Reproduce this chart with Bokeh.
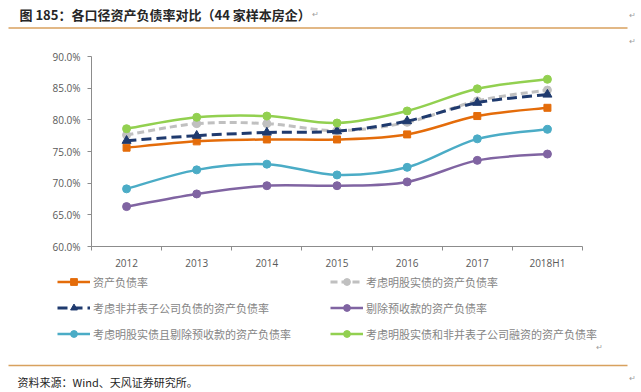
from bokeh.plotting import figure
from bokeh.layouts import column
from bokeh.models import (Range1d, FixedTicker, PrintfTickFormatter, Legend,
                          LegendItem, Label, BoxAnnotation)
from bokeh.embed import file_html
from bokeh.resources import INLINE

# ---------------- data ----------------
years = ["2012", "2013", "2014", "2015", "2016", "2017", "2018H1"]
zcfzl = [75.6, 76.6, 76.9, 76.9, 77.7, 80.6, 81.9]          # 资产负债率
mgsz = [77.6, 79.4, 79.4, 78.3, 79.6, 83.0, 84.7]           # 考虑明股实债的资产负债率
fbb = [76.7, 77.5, 78.0, 78.2, 79.8, 82.7, 84.0]            # 考虑非并表子公司负债的资产负债率
tcys = [66.3, 68.3, 69.6, 69.6, 70.2, 73.6, 74.6]           # 剔除预收款的资产负债率
mgsz_tcys = [69.1, 72.1, 73.0, 71.3, 72.5, 77.0, 78.5]      # 考虑明股实债且剔除预收款的资产负债率
mgsz_fbb = [78.6, 80.4, 80.6, 79.5, 81.4, 84.9, 86.4]       # 考虑明股实债和非并表子公司融资的资产负债率
y_ticks = [60, 65, 70, 75, 80, 85, 90]

names = ["资产负债率", "考虑明股实债的资产负债率", "考虑非并表子公司负债的资产负债率",
         "剔除预收款的资产负债率", "考虑明股实债且剔除预收款的资产负债率",
         "考虑明股实债和非并表子公司融资的资产负债率"]

title_text = "图 185：各口径资产负债率对比（44 家样本房企）"
source_text = "资料来源：Wind、天风证券研究所。"

# ---------------- styles ----------------
W = 641
TOP_H, MAIN_H, BOT_H = 48, 224, 120
AX = "#8c8c8c"
TK = "#595959"
FONT = "Open Sans"
CJK = "Noto Sans CJK SC"
RULE = "#D8A15E"
series_style = [
    ("#E46C0A", "square", 7, "solid", 2.5),
    ("#C0C0C0", "circle", 8, "7 4", 3),
    ("#1F3A6E", "triangle", 9, "10 5", 3),
    ("#8064A2", "circle", 8, "solid", 2.5),
    ("#4BACC6", "circle", 8, "solid", 2.5),
    ("#92D050", "circle", 8, "solid", 2.5),
]
series_vals = [zcfzl, mgsz, fbb, tcys, mgsz_tcys, mgsz_fbb]


def blank_fig(h):
    f = figure(width=W, height=h, output_backend="svg", toolbar_location=None,
               x_axis_type=None, y_axis_type=None,
               x_range=Range1d(0, 1), y_range=Range1d(0, 1),
               min_border=0, min_border_left=0, min_border_right=0,
               min_border_top=0, min_border_bottom=0, frame_align=False)
    f.outline_line_color = None
    f.xgrid.visible = False
    f.ygrid.visible = False
    return f


def mark(f, h, px, py):
    f.add_layout(Label(x=px, y=h - py, x_units="screen", y_units="screen",
                       text="↵", text_font="DejaVu Sans", text_font_size="8px",
                       text_color="#a0a0a0", text_baseline="middle",
                       text_align="center"))


def rule(f, h, py):
    f.add_layout(BoxAnnotation(left=8, right=627, top=h - py + 0.75,
                               bottom=h - py - 0.75, left_units="screen",
                               right_units="screen", top_units="screen",
                               bottom_units="screen", fill_color=RULE,
                               fill_alpha=1, line_color=None))

# ---------------- top: title ----------------
top = blank_fig(TOP_H)
top.add_layout(Label(x=19, y=TOP_H - 14, x_units="screen", y_units="screen",
                     text=title_text, text_font=CJK, text_font_size="13px",
                     text_font_style="bold", text_color="#262626",
                     text_baseline="middle"))
rule(top, TOP_H, 27.5)
for px, py in [(315, 14), (632, 15), (632, 41)]:
    mark(top, TOP_H, px, py)

# ---------------- main chart ----------------
xs = [i + 0.5 for i in range(len(years))]
p = figure(width=W, height=MAIN_H, output_backend="svg", toolbar_location=None,
           x_range=Range1d(0, len(years)), y_range=Range1d(60, 90),
           min_border_left=91, min_border_right=59, min_border_top=8,
           min_border_bottom=25, frame_align=False)
p.outline_line_color = None
p.xgrid.visible = False
p.ygrid.visible = False

p.xaxis.ticker = FixedTicker(ticks=xs, minor_ticks=list(range(len(years) + 1)))
p.xaxis.major_label_overrides = {x: y for x, y in zip(xs, years)}
p.xaxis.major_tick_line_color = None
p.xaxis.major_tick_out = 4
p.xaxis.major_tick_in = 0
p.xaxis.minor_tick_line_color = AX
p.xaxis.minor_tick_out = 4
p.xaxis.minor_tick_in = 0
p.xaxis.axis_line_color = AX
p.xaxis.major_label_standoff = 5
p.xaxis.major_label_text_font = FONT
p.xaxis.major_label_text_font_size = "10px"
p.xaxis.major_label_text_color = TK

p.yaxis.ticker = FixedTicker(ticks=y_ticks, minor_ticks=[])
p.yaxis.formatter = PrintfTickFormatter(format="%.1f%%")
p.yaxis.axis_line_color = AX
p.yaxis.major_tick_line_color = AX
p.yaxis.major_tick_out = 4
p.yaxis.major_tick_in = 0
p.yaxis.minor_tick_line_color = None
p.yaxis.major_label_standoff = 7
p.yaxis.major_label_text_font = FONT
p.yaxis.major_label_text_font_size = "10px"
p.yaxis.major_label_text_color = TK


def smooth_segments(x, y):
    n = len(x)
    d = dict(x0=[], y0=[], x1=[], y1=[], cx0=[], cy0=[], cx1=[], cy1=[])
    for i in range(n - 1):
        a, b = max(i - 1, 0), min(i + 2, n - 1)
        d["x0"].append(x[i]); d["y0"].append(y[i])
        d["x1"].append(x[i + 1]); d["y1"].append(y[i + 1])
        d["cx0"].append(x[i] + (x[i + 1] - x[a]) / 6)
        d["cy0"].append(y[i] + (y[i + 1] - y[a]) / 6)
        d["cx1"].append(x[i + 1] - (x[b] - x[i]) / 6)
        d["cy1"].append(y[i + 1] - (y[b] - y[i]) / 6)
    return d


for vals, (col, mk, sz, dash, lw) in zip(series_vals, series_style):
    seg = smooth_segments(xs, vals)
    p.bezier(source=seg, x0="x0", y0="y0", x1="x1", y1="y1", cx0="cx0",
             cy0="cy0", cx1="cx1", cy1="cy1", line_color=col, line_width=lw,
             line_dash=dash)
    p.scatter(x=xs, y=vals, marker=mk, size=sz, fill_color=col, line_color=col)

# ---------------- bottom: legend + source ----------------
bot = blank_fig(BOT_H)
nan = float("nan")
items = []
for nm, (col, mk, sz, dash, lw) in zip(names, series_style):
    ln = bot.line(x=[nan], y=[nan], line_color=col, line_width=lw, line_dash=dash)
    sc = bot.scatter(x=[nan], y=[nan], marker=mk, size=sz, fill_color=col,
                     line_color=col)
    items.append(LegendItem(label=nm, renderers=[ln, sc]))

leg_kw = dict(orientation="vertical", glyph_width=33, glyph_height=17,
              label_height=17, spacing=9, padding=0, margin=0,
              border_line_color=None, background_fill_alpha=0,
              label_standoff=3, label_text_font=CJK,
              label_text_font_size="11px", label_text_color="#858585")
bot.add_layout(Legend(items=[items[0], items[2], items[4]],
                      location=(57, 50), **leg_kw))
bot.add_layout(Legend(items=[items[1], items[3], items[5]],
                      location=(330, 50), **leg_kw))

bot.add_layout(Label(x=17, y=BOT_H - (381 - 272), x_units="screen",
                     y_units="screen", text=source_text, text_font=CJK,
                     text_font_size="11px", text_color="#262626",
                     text_baseline="middle"))
rule(bot, BOT_H, 365 - 272)
for px, py in [(599, 347), (632, 378)]:
    mark(bot, BOT_H, px, py - 272)

layout = column(top, p, bot, spacing=0)
open("out.html", "w").write(file_html(layout, INLINE))
